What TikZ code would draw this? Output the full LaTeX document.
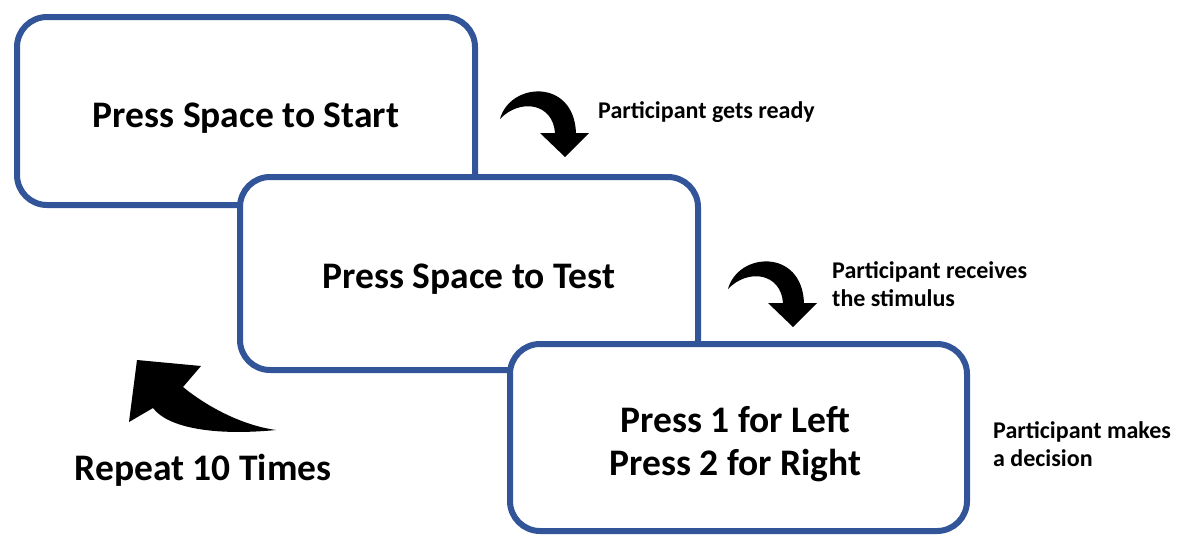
\documentclass[tikz,border=0pt]{standalone}
\usepackage{fontspec}
\setmainfont{Carlito}
\usepackage{tikz}
\definecolor{boxblue}{RGB}{50,84,152}
\newcommand{\bendarrow}{(500,119) .. controls (510,82) and (574,78) .. (576,133) -- (589,133) -- (565,157) -- (540,133) -- (555,133) .. controls (553,103) and (520,98) .. (500,119) -- cycle}

\begin{document}
\begin{tikzpicture}[x=1pt,y=-1pt]
                        \tikzstyle{screen}=[draw=boxblue, fill=white, line width=6pt, rounded corners=30pt, minimum width=458pt, minimum height=190pt]
                        \tikzstyle{title}=[align=center, font=\fontsize{37.5}{43}\selectfont\bfseries]
                        \tikzstyle{note}=[inner sep=0pt, anchor=west, align=left, font=\fontsize{24}{27.5}\selectfont\bfseries]
                        \useasboundingbox (0,0) rectangle (1177,538);
                        \node[screen, minimum height=188pt] (start) at (246,111) {};
                        \node[title] (starttext) at ([yshift=-7pt]start.center) {Press Space to Start};
                        \node[screen, minimum height=193pt] (test) at (469,273.5) {};
                        \node[title] (testtext) at ([yshift=-6pt]test.center) {Press Space to Test};
                        \node[screen, minimum width=457pt, minimum height=187pt] (choice) at (738.5,437.5) {};
                        \node[title] (choicetext) at ([xshift=-3pt,yshift=-7pt]choice.center) {Press 1 for Left\\Press 2 for Right};
                        \fill[black] \bendarrow;
                        \fill[black, shift={(228,170)}] \bendarrow;
                        \fill[black] (137,360) -- (201,366) -- (183,387) .. controls (205,405) and (240,425) .. (276,430) .. controls (215,436) and (168,428) .. (153,408) -- (129,422) -- cycle;
                        \node[note] (ready) at (598,112) {Participant gets ready};
                        \node[note] (stimulus) at (832,284) {Participant receives\\the stimulus};
                        \node[note] (decision) at (993,444) {Participant makes\\a decision};
                        \node[title] (repeat) at (203,470) {Repeat 10 Times};
                    \end{tikzpicture}
\end{document}
